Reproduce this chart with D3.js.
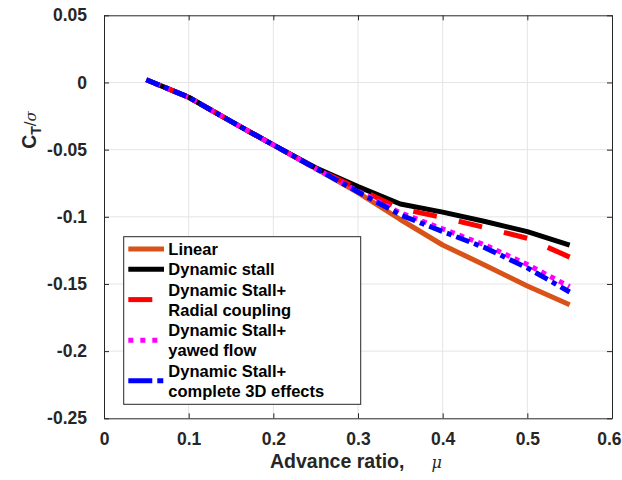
<!DOCTYPE html>
<html>
<head>
<meta charset="utf-8">
<script src="https://cdn.jsdelivr.net/npm/d3@7"></script>
<style>
  html, body { margin: 0; padding: 0; background: #fff; }
  svg { display: block; font-family: "Liberation Sans", Arial, sans-serif; }
</style>
</head>
<body>
<svg id="chart" width="622" height="480"></svg>
<script>
// Advance ratio sample points
const mu = [0.05, 0.10, 0.15, 0.20, 0.25, 0.30, 0.35, 0.40, 0.45, 0.50, 0.55];

// Thrust coefficient / solidity for each model
const ctLinear     = [0.002, -0.011, -0.029, -0.0465, -0.064, -0.082, -0.102, -0.121, -0.136, -0.1515, -0.1655];
const ctDynStall   = [0.002, -0.011, -0.029, -0.0465, -0.0635, -0.0775, -0.0905, -0.0965, -0.1035, -0.111, -0.121];
const ctRadial     = [0.002, -0.011, -0.029, -0.0465, -0.064, -0.079, -0.094, -0.1005, -0.108, -0.116, -0.130];
const ctYawed      = [0.002, -0.011, -0.029, -0.0465, -0.064, -0.081, -0.097, -0.109, -0.121, -0.1355, -0.152];
const ctComplete3D = [0.002, -0.011, -0.029, -0.0465, -0.064, -0.0815, -0.0985, -0.111, -0.123, -0.138, -0.156];

const xTicks = [0, 0.1, 0.2, 0.3, 0.4, 0.5, 0.6];
const yTicks = [0.05, 0, -0.05, -0.1, -0.15, -0.2, -0.25];

const seriesNames = [
  ["Linear"],
  ["Dynamic stall"],
  ["Dynamic Stall+", "Radial coupling"],
  ["Dynamic Stall+", "yawed flow"],
  ["Dynamic Stall+", "complete 3D effects"]
];

// dash: [on, off, ...]; endOnDash aligns the pattern so the line finishes with a full dash
const series = [
  { values: ctLinear,     color: "#D95319", dash: null,             legendDash: null },
  { values: ctDynStall,   color: "#000000", dash: null,             legendDash: null },
  { values: ctRadial,     color: "#FF0000", dash: [24, 22.5],       legendDash: "24,30", endOnDash: true },
  { values: ctYawed,      color: "#FF00FF", dash: [5, 5],           legendDash: "5,7" },
  { values: ctComplete3D, color: "#0000FF", dash: [14, 5, 5, 5],    legendDash: "24,5,6,20" }
];

const svg = d3.select("#chart");
const plotLeft = 104, plotRight = 612, plotTop = 15.3, plotBottom = 418.3;
const axisColor = "#262626";

const x = d3.scaleLinear().domain([0, 0.6]).range([plotLeft, plotRight]);
const y = d3.scaleLinear().domain([-0.25, 0.05]).range([plotBottom, plotTop]);

// grid
const grid = svg.append("g");
grid.selectAll("line.gx").data(xTicks.slice(1, -1)).join("line")
  .attr("x1", d => x(d)).attr("x2", d => x(d))
  .attr("y1", plotTop).attr("y2", plotBottom)
  .attr("stroke", "#e5e5e5").attr("stroke-width", 1);
grid.selectAll("line.gy").data(yTicks.slice(1, -1)).join("line")
  .attr("x1", plotLeft).attr("x2", plotRight)
  .attr("y1", d => y(d)).attr("y2", d => y(d))
  .attr("stroke", "#e5e5e5").attr("stroke-width", 1);

// axes with inward ticks on all four sides
const tickFmt = d => d === 0 ? "0" : String(+d.toFixed(2));
const styleAxis = g => {
  g.select(".domain").attr("stroke", axisColor);
  g.selectAll(".tick line").attr("stroke", axisColor);
  g.selectAll(".tick text").attr("fill", axisColor)
    .style("font-size", "17.5px").style("font-weight", "bold")
    .style("font-family", "'Liberation Sans', Arial, sans-serif");
};

const xAxisG = svg.append("g").attr("transform", `translate(0,${plotBottom})`)
  .call(d3.axisBottom(x).tickValues(xTicks).tickFormat(tickFmt).tickSizeInner(-5).tickSizeOuter(0).tickPadding(14))
  .call(styleAxis);
// keep the last tick label inside the page edge
xAxisG.selectAll(".tick text").filter(d => d === 0.6)
  .attr("text-anchor", "end").attr("x", 621 - x(0.6));

svg.append("g").attr("transform", `translate(0,${plotTop})`)
  .call(d3.axisTop(x).tickValues(xTicks).tickFormat("").tickSizeInner(-5).tickSizeOuter(0))
  .call(styleAxis);
svg.append("g").attr("transform", `translate(${plotLeft},0)`)
  .call(d3.axisLeft(y).tickValues(yTicks).tickFormat(tickFmt).tickSizeInner(-5).tickSizeOuter(0).tickPadding(17))
  .call(styleAxis);
svg.append("g").attr("transform", `translate(${plotRight},0)`)
  .call(d3.axisRight(y).tickValues(yTicks).tickFormat("").tickSizeInner(-5).tickSizeOuter(0))
  .call(styleAxis);

// curves
const line = d3.line().x((d, i) => x(mu[i])).y(d => y(d));
const clipId = "plotclip";
svg.append("clipPath").attr("id", clipId).append("rect")
  .attr("x", plotLeft).attr("y", plotTop).attr("width", plotRight - plotLeft).attr("height", plotBottom - plotTop);
const curves = svg.append("g").attr("clip-path", `url(#${clipId})`);
series.forEach(s => {
  const p = curves.append("path")
    .datum(s.values)
    .attr("d", line)
    .attr("fill", "none")
    .attr("stroke", s.color)
    .attr("stroke-width", 5)
    .attr("stroke-linejoin", "round");
  if (s.dash) {
    p.attr("stroke-dasharray", s.dash.join(","));
    if (s.endOnDash) {
      const period = d3.sum(s.dash);
      const len = p.node().getTotalLength();
      const off = ((s.dash[0] - len) % period + period) % period;
      p.attr("stroke-dashoffset", off);
    }
  }
});

// legend
const lg = svg.append("g");
lg.append("rect")
  .attr("x", 123.7).attr("y", 236.7).attr("width", 237).attr("height", 167.6)
  .attr("fill", "#fff").attr("stroke", axisColor).attr("stroke-width", 1);

let rowY = 249;
series.forEach((s, i) => {
  const names = seriesNames[i];
  const sampleY = names.length === 1 ? rowY : rowY + 10;
  lg.append("line")
    .attr("x1", 128.3).attr("x2", 164)
    .attr("y1", sampleY).attr("y2", sampleY)
    .attr("stroke", s.color).attr("stroke-width", 5)
    .attr("stroke-dasharray", s.legendDash);
  names.forEach((t, j) => {
    lg.append("text")
      .attr("x", 168.3).attr("y", rowY + j * 20.3)
      .attr("dy", "0.36em")
      .attr("fill", "#000")
      .style("font-size", "16.5px").style("font-weight", "bold")
      .text(t);
  });
  rowY += names.length * 20.3;
});

// axis titles
const xt = svg.append("text")
  .attr("x", 270).attr("y", 467.7)
  .attr("fill", axisColor)
  .style("font-size", "19.5px").style("font-weight", "bold");
xt.append("tspan").text("Advance ratio,");
xt.append("tspan").attr("dx", 27)
  .style("font-family", "'DejaVu Serif', serif").style("font-style", "italic")
  .style("font-weight", "normal").style("font-size", "16px").text("μ");

const yt = svg.append("text")
  .attr("transform", "translate(36,130) rotate(-90)")
  .attr("text-anchor", "middle")
  .attr("fill", axisColor)
  .style("font-size", "19.5px").style("font-weight", "bold");
yt.append("tspan").text("C");
yt.append("tspan").attr("dy", 5).style("font-size", "14px").text("T");
yt.append("tspan").attr("dy", -5).style("font-weight", "normal").style("font-size", "17px").text("/");
yt.append("tspan")
  .style("font-family", "'DejaVu Serif', serif").style("font-style", "italic")
  .style("font-weight", "normal").style("font-size", "15px").text("σ");
</script>
</body>
</html>
